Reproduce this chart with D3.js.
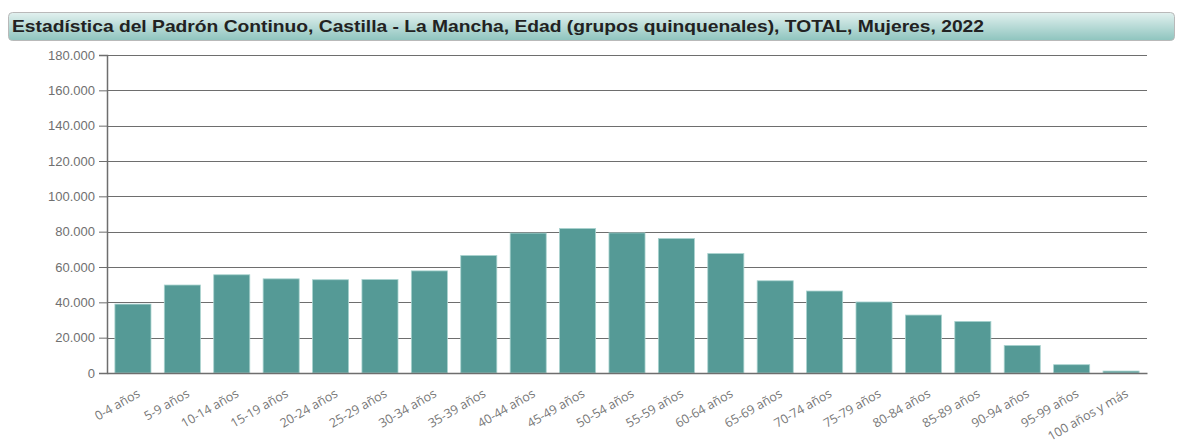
<!DOCTYPE html>
<html>
<head>
<meta charset="utf-8">
<script src="https://cdn.jsdelivr.net/npm/d3@7"></script>
<style>
  body { margin: 0; background: #fff; }
</style>
</head>
<body>
<div id="chart"></div>
<script>
// datos
const titleText = "Estadística del Padrón Continuo, Castilla - La Mancha, Edad (grupos quinquenales), TOTAL, Mujeres, 2022";
const categories = ["0-4 años", "5-9 años", "10-14 años", "15-19 años", "20-24 años", "25-29 años",
    "30-34 años", "35-39 años", "40-44 años", "45-49 años", "50-54 años", "55-59 años", "60-64 años",
    "65-69 años", "70-74 años", "75-79 años", "80-84 años", "85-89 años", "90-94 años", "95-99 años",
    "100 años y más"];
const values = [39000, 49800, 55600, 53300, 52800, 52900, 57800, 66500, 79200, 81800, 79300, 76100,
    67600, 52200, 46400, 40200, 32800, 29200, 15600, 4700, 1100];
const yTicks = [0, 20000, 40000, 60000, 80000, 100000, 120000, 140000, 160000, 180000];

const width = 1181, height = 444;
const margin = { top: 55, right: 34, bottom: 71, left: 107 };
const innerWidth = width - margin.left - margin.right;
const innerHeight = height - margin.top - margin.bottom;

const svg = d3.select("#chart").append("svg")
    .attr("width", width)
    .attr("height", height);

// barra del título
const defs = svg.append("defs");
const grad = defs.append("linearGradient")
    .attr("id", "title-grad")
    .attr("x1", 0).attr("y1", 0).attr("x2", 0).attr("y2", 1);
grad.append("stop").attr("offset", "0%").attr("stop-color", "#e2f1ef");
grad.append("stop").attr("offset", "100%").attr("stop-color", "#8ec4be");

svg.append("rect")
    .attr("x", 8.5).attr("y", 12.5)
    .attr("width", 1166).attr("height", 28)
    .attr("rx", 4)
    .attr("fill", "url(#title-grad)")
    .attr("stroke", "#b9b9b9");

svg.append("text")
    .attr("x", 12)
    .attr("y", 32)
    .attr("textLength", 972)
    .attr("lengthAdjust", "spacingAndGlyphs")
    .style("font-family", "Arial, 'Liberation Sans', sans-serif")
    .style("font-size", "17px")
    .style("font-weight", "bold")
    .style("fill", "#222")
    .text(titleText);

const g = svg.append("g")
    .attr("transform", `translate(${margin.left},${margin.top})`);

// escalas
const x = d3.scaleBand()
    .domain(categories)
    .range([0, innerWidth])
    .paddingInner(0.27)
    .paddingOuter(0.16);

const y = d3.scaleLinear()
    .domain([0, 180000])
    .range([innerHeight, 0]);

const fmt = v => d3.format(",")(v).replace(/,/g, ".");

// rejilla
g.append("g")
    .selectAll("line")
    .data(yTicks)
    .enter()
    .append("line")
    .attr("x1", 0).attr("x2", innerWidth)
    .attr("y1", d => Math.round(y(d)) + 0.5)
    .attr("y2", d => Math.round(y(d)) + 0.5)
    .attr("stroke", "#6e6e6e")
    .attr("stroke-width", 1.2);

// barras
g.selectAll(".bar")
    .data(values)
    .enter()
    .append("rect")
    .attr("class", "bar")
    .attr("x", (d, i) => x(categories[i]))
    .attr("y", d => y(d))
    .attr("width", x.bandwidth())
    .attr("height", d => innerHeight - y(d))
    .attr("fill", "#559a96")
    .attr("stroke", "#a9d3cf")
    .attr("stroke-width", 0.8);

// eje Y
const yAxis = g.append("g")
    .call(d3.axisLeft(y).tickValues(yTicks).tickFormat(fmt).tickSize(8).tickPadding(4));
yAxis.select(".domain").attr("stroke", "#6e6e6e").attr("stroke-width", 1.5);
yAxis.selectAll(".tick line").attr("stroke", "#6e6e6e");
yAxis.selectAll("text")
    .style("font-family", "Arial, 'Liberation Sans', sans-serif")
    .style("font-size", "13px")
    .style("fill", "#707070");

// eje X
const xAxis = g.append("g")
    .attr("transform", `translate(0,${innerHeight})`)
    .call(d3.axisBottom(x).tickSize(0).tickPadding(0));
xAxis.select(".domain").attr("stroke", "#6e6e6e").attr("stroke-width", 1.5);
xAxis.selectAll("text")
    .style("font-family", "'Open Sans', 'Noto Sans', sans-serif")
    .style("font-size", "12.5px")
    .style("fill", "#777")
    .attr("text-anchor", "end")
    .attr("dy", 0)
    .attr("transform", "translate(8,23) rotate(-30)");
</script>
</body>
</html>
